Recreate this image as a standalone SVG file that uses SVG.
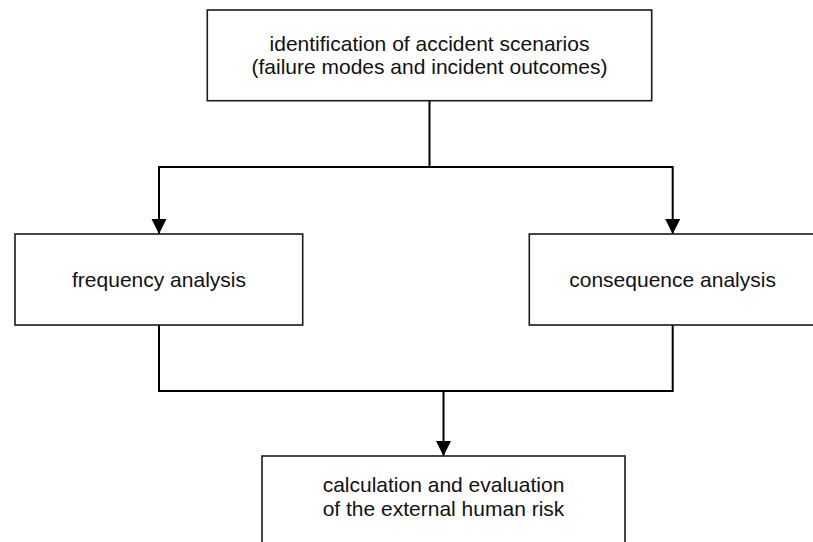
<svg xmlns="http://www.w3.org/2000/svg" width="813" height="542" viewBox="0 0 813 542">
  <style>
    .box { fill: #ffffff; stroke: #1a1a1a; stroke-width: 1.6; }
    .lbl { font-family: "Liberation Sans", Arial, sans-serif; font-size: 21px; fill: #111111; text-anchor: middle; }
    .conn { fill: none; stroke: #000000; stroke-width: 2; }
  </style>
  <defs>
    <marker id="arrow" markerUnits="userSpaceOnUse" markerWidth="16" markerHeight="16" refX="15" refY="7.5" orient="auto">
      <path d="M0,0 L15,7.5 L0,15 z" fill="#000000"/>
    </marker>
  </defs>
  <rect width="813" height="542" fill="#ffffff"/>

  <g id="connectors">
    <path class="conn" d="M429.5,100.7 V167"/>
    <path class="conn" d="M159,167 H672.7"/>
    <path class="conn" d="M159,166 V234" marker-end="url(#arrow)"/>
    <path class="conn" d="M672.7,166 V234" marker-end="url(#arrow)"/>
    <path class="conn" d="M159,325 V391 H672.7 V325"/>
    <path class="conn" d="M443.5,391 V456" marker-end="url(#arrow)"/>
  </g>

  <g id="identification">
    <rect class="box" x="207.3" y="10" width="444.4" height="90.7"/>
    <text class="lbl" x="429.5" y="50.5">identification of accident scenarios</text>
    <text class="lbl" x="429.5" y="74">(failure modes and incident outcomes)</text>
  </g>

  <g id="frequency">
    <rect class="box" x="15" y="234" width="287.7" height="91"/>
    <text class="lbl" x="159" y="287">frequency analysis</text>
  </g>

  <g id="consequence">
    <rect class="box" x="529.3" y="234" width="286.7" height="91"/>
    <text class="lbl" x="672.6" y="287">consequence analysis</text>
  </g>

  <g id="calculation">
    <rect class="box" x="262" y="456" width="363" height="100"/>
    <text class="lbl" x="443.5" y="492">calculation and evaluation</text>
    <text class="lbl" x="443.5" y="516">of the external human risk</text>
  </g>
</svg>
